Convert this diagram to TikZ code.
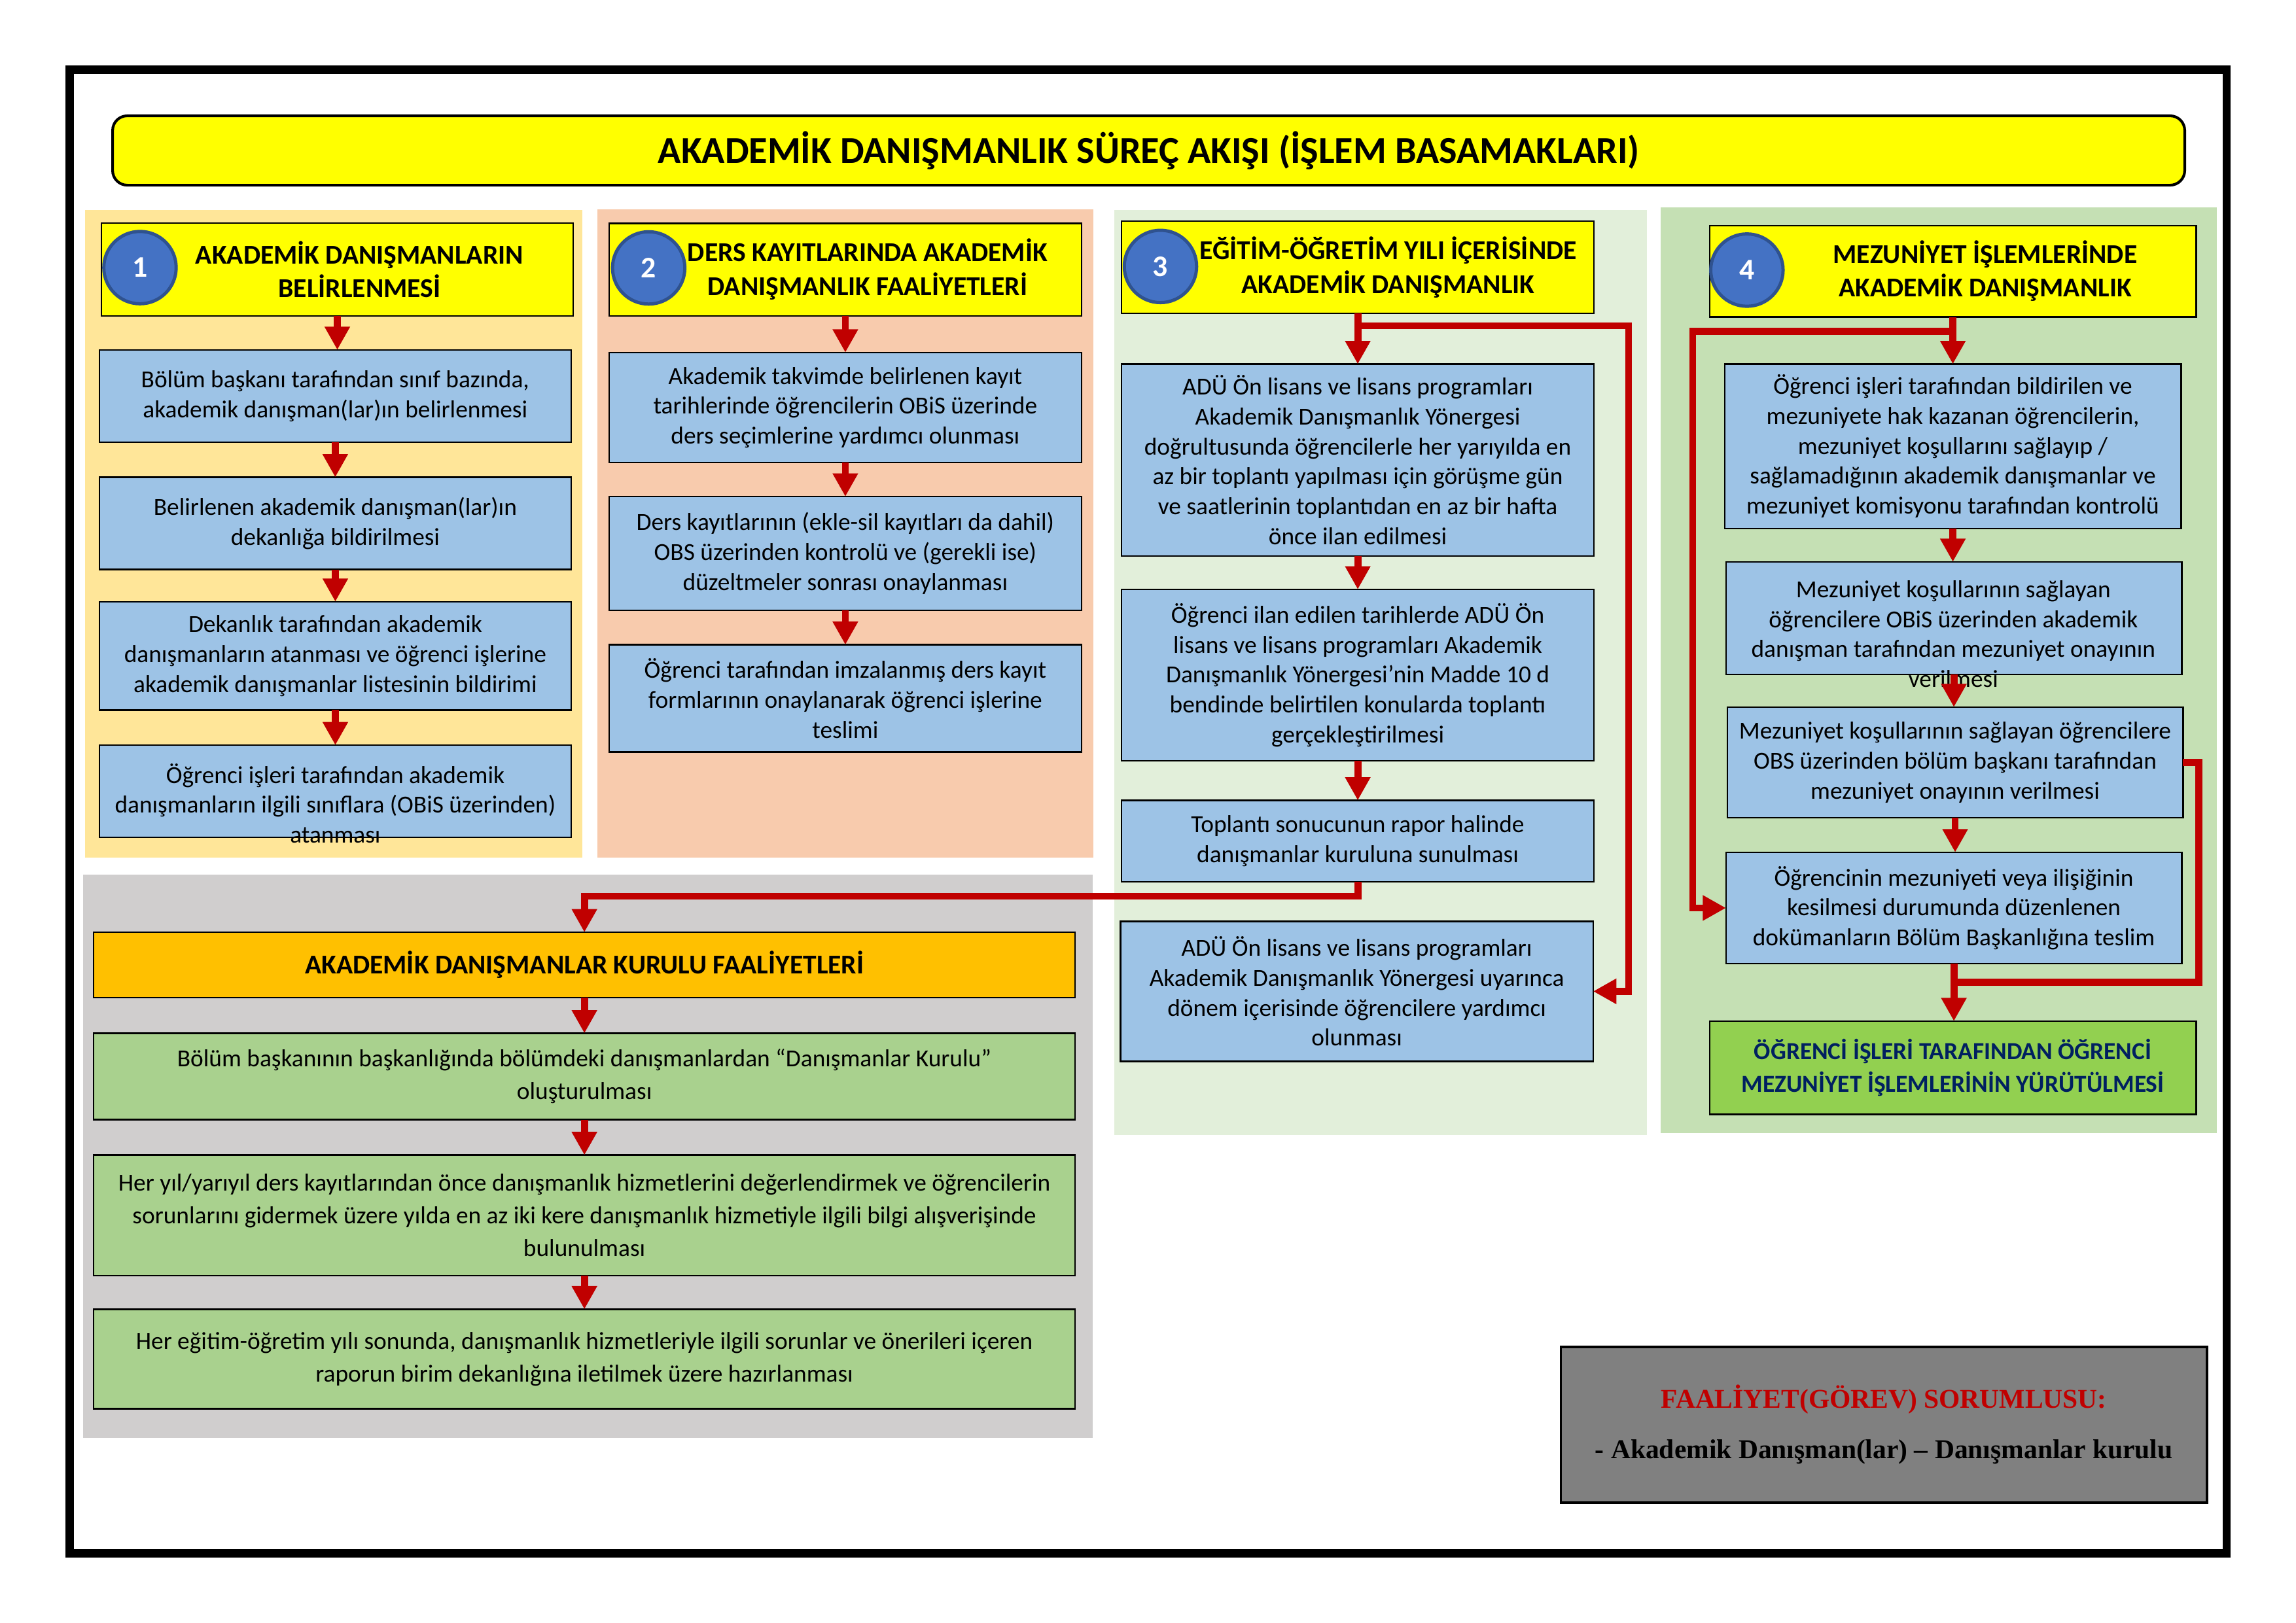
\documentclass[tikz,border=0pt]{standalone}
\usepackage{fontspec}
\setmainfont{Carlito}
\newfontfamily\tnr{Liberation Serif}
\usetikzlibrary{arrows.meta}
\definecolor{hyel}{HTML}{FFFF00}
\definecolor{bgone}{HTML}{FFE699}
\definecolor{bgtwo}{HTML}{F8CBAD}
\definecolor{bgthree}{HTML}{E2EFDA}
\definecolor{bgfour}{HTML}{C5E0B4}
\definecolor{bggray}{HTML}{D0CECE}
\definecolor{bblue}{HTML}{9DC3E6}
\definecolor{ggreen}{HTML}{A9D18E}
\definecolor{korange}{HTML}{FFC000}
\definecolor{fgreen}{HTML}{92D050}
\definecolor{tblue}{HTML}{002060}
\definecolor{cblue}{HTML}{4472C4}
\definecolor{cborder}{HTML}{2F528F}
\definecolor{ared}{HTML}{C00000}
\definecolor{rgray}{HTML}{808080}
\def\U{0.018941cm}
\newcommand\bx[7]{\node[#1, minimum width={(#5-#3)*\U}, minimum height={(#6-#4)*\U}] (#2) at ({(#3+#5)/2},{(#4+#6)/2}) {#7};}
\tikzset{
  base/.style={inner sep=1pt, outer sep=0pt, align=center},
  bgbox/.style={base, fill=#1, draw=none},
  hdrbox/.style={base, fill=hyel, draw=black, line width=0.6pt},
  bluebox/.style={base, fill=bblue, draw=black, line width=0.6pt, font=\fontsize{9}{11}\selectfont},
  greenbox/.style={base, fill=ggreen, draw=black, line width=0.6pt, font=\fontsize{9}{12}\selectfont},
  plaintext/.style={align=center, inner sep=0pt, font=\fontsize{9}{11}\selectfont},
  hdrtext/.style={align=center, inner sep=0pt, font=\bfseries\fontsize{10}{12.4}\selectfont},
  numcirc/.style={circle, fill=cblue, draw=cborder, line width=1.2pt, minimum size={49.4*\U}, inner sep=0pt, text=white, font=\bfseries\fontsize{11}{13}\selectfont},
  arr/.style={draw=ared, line width=2.6pt, -{Triangle[width=0.31cm,length=0.3cm]}},
  conn/.style={draw=ared, line width=2.6pt},
  titlebox/.style={base, fill=hyel, draw=black, line width=1pt, rounded corners=0.19cm, font=\bfseries\fontsize{14}{17}\selectfont},
  kbox/.style={base, fill=korange, draw=black, line width=0.6pt, font=\bfseries\fontsize{10}{12}\selectfont},
  finbox/.style={base, fill=fgreen, draw=black, line width=0.6pt, text=tblue, font=\bfseries\fontsize{9}{12}\selectfont},
  respbox/.style={base, fill=rgray, draw=black, line width=0.8pt, font=\tnr\bfseries\fontsize{10}{18.5}\selectfont},
}
\begin{document}
\begin{tikzpicture}[x=0.018941cm, y=-0.018941cm]
\useasboundingbox (0,0) rectangle (1568,1108.6);
% backgrounds
\bx{bgbox=bgone}{bg1}{58.1}{143.4}{397.5}{586}{}
\bx{bgbox=bgtwo}{bg2}{408}{143.2}{746.7}{586}{}
\bx{bgbox=bgthree}{bg3}{760.8}{143.5}{1124.5}{775.3}{}
\bx{bgbox=bgfour}{bg4}{1134}{141.7}{1514}{774}{}
\bx{bgbox=bggray}{bgk}{56.7}{597.5}{746.4}{982}{}
% frame
\draw[line width=3.1pt] (47.6,47.6) rectangle (1520.6,1061.2);
% title
\bx{titlebox}{title}{76.9}{79.1}{1492}{126.5}{AKADEMİK DANIŞMANLIK SÜREÇ AKIŞI (İŞLEM BASAMAKLARI)}
% headers
\bx{hdrbox}{h1}{69.3}{152.4}{391.4}{215.8}{}
\bx{hdrbox}{h2}{416}{152.6}{738.6}{215.8}{}
\bx{hdrbox}{h3}{766}{151}{1088.5}{214}{}
\bx{hdrbox}{h4}{1167.5}{154.2}{1499.8}{216.6}{}
\node[hdrtext] (ht1) at (245.5,184) {AKADEMİK DANIŞMANLARIN\\BELİRLENMESİ};
\node[hdrtext] (ht2) at (592.5,184) {DERS KAYITLARINDA AKADEMİK\\DANIŞMANLIK FAALİYETLERİ};
\node[hdrtext] (ht3) at (948,182.6) {EĞİTİM-ÖĞRETİM YILI İÇERİSİNDE\\AKADEMİK DANIŞMANLIK};
\node[hdrtext] (ht4) at (1355.7,185) {MEZUNİYET İŞLEMLERİNDE\\AKADEMİK DANIŞMANLIK};
\node[numcirc] (n1) at (95.6,182.8) {1};
\node[numcirc] (n2) at (443,183) {2};
\node[numcirc] (n3) at (792.5,182) {3};
\node[numcirc] (n4) at (1193,184.5) {4};
% column 1
\bx{bluebox}{b1a}{67.9}{239}{390}{302}{Bölüm başkanı tarafından sınıf bazında,\\akademik danışman(lar)ın belirlenmesi}
\bx{bluebox}{b1b}{68}{326}{390}{389}{Belirlenen akademik danışman(lar)ın\\dekanlığa bildirilmesi}
\bx{bluebox}{b1c}{68}{411}{390}{485}{Dekanlık tarafından akademik\\danışmanların atanması ve öğrenci işlerine\\akademik danışmanlar listesinin bildirimi}
\bx{bluebox}{b1d}{68}{509}{390}{572}{}
\node[plaintext] (t1d) at (229,548.7) {Öğrenci işleri tarafından akademik\\danışmanların ilgili sınıflara (OBiS üzerinden)\\atanması};
% column 2
\bx{bluebox}{b2a}{416}{240.8}{738.6}{315.9}{Akademik takvimde belirlenen kayıt\\tarihlerinde öğrencilerin OBiS üzerinde\\ders seçimlerine yardımcı olunması}
\bx{bluebox}{b2b}{416}{339.2}{738.6}{416.8}{Ders kayıtlarının (ekle-sil kayıtları da dahil)\\OBS üzerinden kontrolü ve (gerekli ise)\\düzeltmeler sonrası onaylanması}
\bx{bluebox}{b2c}{416}{440.4}{738.6}{513.6}{Öğrenci tarafından imzalanmış ders kayıt\\formlarının onaylanarak öğrenci işlerine\\teslimi}
% column 3
\bx{bluebox}{b3a}{766}{248.7}{1088.5}{379.8}{ADÜ Ön lisans ve lisans programları\\Akademik Danışmanlık Yönergesi\\doğrultusunda öğrencilerle her yarıyılda en\\az bir toplantı yapılması için görüşme gün\\ve saatlerinin toplantıdan en az bir hafta\\önce ilan edilmesi}
\bx{bluebox}{b3b}{766}{402.6}{1088.5}{519.7}{Öğrenci ilan edilen tarihlerde ADÜ Ön\\lisans ve lisans programları Akademik\\Danışmanlık Yönergesi’nin Madde 10 d\\bendinde belirtilen konularda toplantı\\gerçekleştirilmesi}
\bx{bluebox}{b3c}{766}{546.7}{1088.5}{602.3}{Toplantı sonucunun rapor halinde\\danışmanlar kuruluna sunulması}
\bx{bluebox}{b3d}{765.2}{629.3}{1088}{725}{ADÜ Ön lisans ve lisans programları\\Akademik Danışmanlık Yönergesi uyarınca\\dönem içerisinde öğrencilere yardımcı\\olunması}
% column 4
\bx{bluebox}{b4a}{1177.8}{248.7}{1489.5}{361}{Öğrenci işleri tarafından bildirilen ve\\mezuniyete hak kazanan öğrencilerin,\\mezuniyet koşullarını sağlayıp /\\sağlamadığının akademik danışmanlar ve\\mezuniyet komisyonu tarafından kontrolü}
\bx{bluebox}{b4b}{1178.7}{383.8}{1490}{460.8}{}
\node[plaintext] (t4b) at (1334,433) {Mezuniyet koşullarının sağlayan\\öğrencilere OBiS üzerinden akademik\\danışman tarafından mezuniyet onayının\\verilmesi};
\bx{bluebox}{b4c}{1179.6}{483}{1490.8}{558.6}{Mezuniyet koşullarının sağlayan öğrencilere\\OBS üzerinden bölüm başkanı tarafından\\mezuniyet onayının verilmesi}
\bx{bluebox}{b4d}{1178.7}{582.2}{1490}{658.2}{Öğrencinin mezuniyeti veya ilişiğinin\\kesilmesi durumunda düzenlenen\\dokümanların Bölüm Başkanlığına teslim}
\bx{finbox}{fin}{1167.5}{697.5}{1499.8}{761.3}{ÖĞRENCİ İŞLERİ TARAFINDAN ÖĞRENCİ\\MEZUNİYET İŞLEMLERİNİN YÜRÜTÜLMESİ}
% council
\bx{kbox}{kh}{64}{636.8}{734.2}{681.4}{AKADEMİK DANIŞMANLAR KURULU FAALİYETLERİ}
\bx{greenbox}{g1}{64}{705.8}{734.2}{764.8}{Bölüm başkanının başkanlığında bölümdeki danışmanlardan “Danışmanlar Kurulu”\\oluşturulması}
\bx{greenbox}{g2}{64}{789}{734.2}{871.3}{Her yıl/yarıyıl ders kayıtlarından önce danışmanlık hizmetlerini değerlendirmek ve öğrencilerin\\sorunlarını gidermek üzere yılda en az iki kere danışmanlık hizmetiyle ilgili bilgi alışverişinde\\bulunulması}
\bx{greenbox}{g3}{64}{894.3}{734.2}{962.3}{Her eğitim-öğretim yılı sonunda, danışmanlık hizmetleriyle ilgili sorunlar ve önerileri içeren\\raporun birim dekanlığına iletilmek üzere hazırlanması}
% responsibility
\bx{respbox}{resp}{1066}{920}{1507.2}{1026.4}{{\color{ared}FAALİYET(GÖREV) SORUMLUSU:}\\- Akademik Danışman(lar) – Danışmanlar kurulu}
% arrows column 1
\draw[arr] (h1.south) -- (h1.south |- b1a.north);
\draw[arr] (b1a.south) -- (b1a.south |- b1b.north);
\draw[arr] (b1b.south) -- (b1b.south |- b1c.north);
\draw[arr] (b1c.south) -- (b1c.south |- b1d.north);
% arrows column 2
\draw[arr] (h2.south) -- (h2.south |- b2a.north);
\draw[arr] (b2a.south) -- (b2a.south |- b2b.north);
\draw[arr] (b2b.south) -- (b2b.south |- b2c.north);
% arrows column 3
\draw[arr] (h3.south) -- (h3.south |- b3a.north);
\draw[arr] (b3a.south) -- (b3a.south |- b3b.north);
\draw[arr] (b3b.south) -- (b3b.south |- b3c.north);
\coordinate (c3a) at (1112.2,222.5);
\draw[arr] (h3.south |- c3a) -- (c3a) |- (b3d.east);
\draw[arr] (b3c.south) -- ++(0,9.9) -| (kh.north);
% arrows council
\draw[arr] (kh.south) -- (kh.south |- g1.north);
\draw[arr] (g1.south) -- (g1.south |- g2.north);
\draw[arr] (g2.south) -- (g2.south |- g3.north);
% arrows column 4
\draw[arr] (h4.south) -- (h4.south |- b4a.north);
\draw[arr] (b4a.south) -- (b4a.south |- b4b.north);
\draw[arr] (b4b.south) -- (b4b.south |- b4c.north);
\draw[arr] (b4c.south) -- (b4c.south |- b4d.north);
\draw[arr] (b4d.south) -- (b4d.south |- fin.north);
\coordinate (c4a) at (1156,226.4);
\draw[arr] (h4.south |- c4a) -- (c4a) |- (b4d.west);
\coordinate (c4b) at (1501.8,670.8);
\draw[conn] (b4c.east) -| (c4b) -- (b4d.south |- c4b);
\end{tikzpicture}
\end{document}
